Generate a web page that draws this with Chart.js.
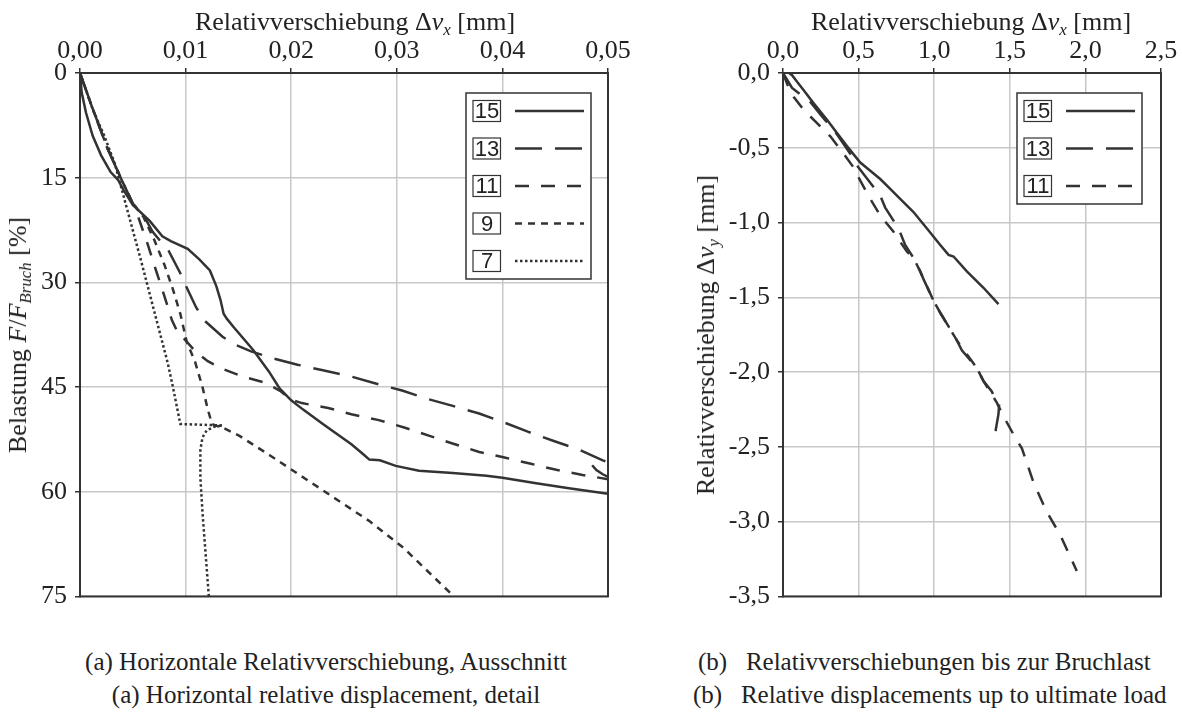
<!DOCTYPE html>
<html>
<head>
<meta charset="utf-8">
<script src="https://cdn.jsdelivr.net/npm/chart.js@4/dist/chart.umd.min.js"></script>
<style>
  body { margin: 0; background: #fff; width: 1182px; height: 722px; position: relative; overflow: hidden;
         font-family: "Liberation Serif", "Times New Roman", serif; color: #222; }
  canvas { position: absolute; top: 0; }
  #chartA { left: 0; }
  #chartB { left: 660px; }
  .t { position: absolute; font-size: 26px; line-height: 1; white-space: nowrap; }
  .t sub { font-size: 0.65em; position: relative; top: 0.28em; vertical-align: baseline; }
  .xt { top: 9px; transform: translateX(-50%); }
  .yt { top: 335px; transform: translate(-50%, -50%) rotate(-90deg); }
  .cap { position: absolute; font-size: 25px; line-height: 1; white-space: pre; }
  .mid { transform: translateX(-50%); }
</style>
</head>
<body>
<canvas id="chartA" width="640" height="620"></canvas>
<canvas id="chartB" width="522" height="620"></canvas>

<div class="t xt" style="left:355px">Relativverschiebung Δ<i>v</i><sub><i>x</i></sub> [mm]</div>
<div class="t yt" style="left:18px">Belastung <i>F</i>/<i>F</i><sub><i>Bruch</i></sub> [%]</div>
<div class="t xt" style="left:971px">Relativverschiebung Δ<i>v</i><sub><i>x</i></sub> [mm]</div>
<div class="t yt" style="left:706px">Relativverschiebung Δ<i>v</i><sub><i>y</i></sub> [mm]</div>

<div class="cap mid" style="left:326px; top:649px">(a) Horizontale Relativverschiebung, Ausschnitt</div>
<div class="cap mid" style="left:326px; top:682px">(a) Horizontal relative displacement, detail</div>
<div class="cap" style="left:698px; top:649px">(b)   Relativverschiebungen bis zur Bruchlast</div>
<div class="cap" style="left:693px; top:682px">(b)   Relative displacements up to ultimate load</div>

<script>
// (a) horizontal displacement dv_x [mm] vs load F/F_Bruch [%]
const a15x = [0, 0.00016, 0.00057, 0.0012, 0.0020, 0.0029, 0.0036, 0.0041, 0.0050, 0.0066, 0.0078, 0.0086, 0.0102, 0.0113, 0.0123, 0.0129, 0.0133, 0.0136, 0.0139, 0.0146, 0.0164, 0.0179, 0.0189, 0.0200, 0.0211, 0.0230, 0.0257, 0.0268, 0.0274, 0.0284, 0.0299, 0.0321, 0.0353, 0.0385, 0.0400, 0.0432, 0.0463, 0.0500];
const a15y = [0, 2.8, 5.7, 9.0, 11.8, 14.2, 15.3, 16.7, 18.9, 21.2, 23.4, 24.1, 25.2, 26.7, 28.3, 30.5, 32.5, 34.5, 35.2, 36.5, 39.7, 42.8, 45.2, 46.9, 48.2, 50.3, 53.2, 54.6, 55.4, 55.5, 56.3, 57.0, 57.3, 57.7, 58.0, 58.8, 59.5, 60.3];

// the short hook at the right edge is a separate trace piece (null = break)
const a13x = [0, 0.0011, 0.0026, 0.0040, 0.0050, 0.0060, 0.0069, 0.0084, 0.0095, 0.0100, 0.0110, 0.0118, 0.0135, 0.0148, 0.0162, 0.0183, 0.0206, 0.0230, 0.0257, 0.0280, 0.0305, 0.0329, 0.0353, 0.0378, 0.0402, 0.0424, 0.0448, 0.0473, 0.0495, 0.0503, null, 0.0485, 0.0489, 0.0495, 0.0502];
const a13y = [0, 4.7, 10.8, 15.5, 18.7, 20.4, 22.8, 25.5, 28.7, 30.4, 33.6, 35.5, 37.8, 39.0, 39.9, 40.9, 41.8, 42.6, 43.5, 44.5, 45.5, 46.7, 47.7, 48.8, 50.1, 51.4, 52.7, 54.0, 55.5, 55.9, null, 56.2, 56.9, 57.5, 58.0];

const a11x = [0, 0.0011, 0.0026, 0.0040, 0.0050, 0.0056, 0.0064, 0.0072, 0.0080, 0.0087, 0.0092, 0.0101, 0.0110, 0.0121, 0.0135, 0.0154, 0.0176, 0.0190, 0.0200, 0.0210, 0.0235, 0.0257, 0.0282, 0.0307, 0.0331, 0.0355, 0.0378, 0.0402, 0.0427, 0.0452, 0.0476, 0.0500];
const a11y = [0, 4.7, 10.8, 15.5, 18.7, 21.0, 24.5, 28.3, 32.0, 35.4, 37.0, 38.5, 40.0, 41.3, 42.4, 43.5, 44.4, 45.6, 46.8, 47.3, 48.0, 48.9, 49.7, 50.8, 52.0, 53.2, 54.3, 55.1, 56.0, 56.9, 57.6, 58.2];

const a9x = [0, 0.0011, 0.0026, 0.0040, 0.0050, 0.0060, 0.0070, 0.0080, 0.0088, 0.0095, 0.0101, 0.0109, 0.0116, 0.0121, 0.0125, 0.0130, 0.0135, 0.0151, 0.0180, 0.0227, 0.0274, 0.0306, 0.0352];
const a9y = [0, 4.7, 10.8, 15.5, 18.7, 20.6, 23.8, 27.5, 31.0, 34.5, 38.5, 41.4, 45.0, 48.2, 50.3, 50.6, 50.8, 52.0, 54.8, 59.5, 64.2, 68.0, 74.7];

const a7x = [0, 0.0012, 0.0023, 0.0033, 0.0041, 0.0058, 0.0074, 0.0083, 0.0088, 0.0095, 0.0115, 0.0135, 0.0127, 0.0120, 0.0116, 0.0114, 0.0114, 0.0116, 0.0119, 0.0122];
const a7y = [0, 5.2, 9.0, 13.0, 17.5, 27.0, 36.3, 41.5, 45.0, 50.3, 50.4, 50.5, 50.7, 51.2, 52.2, 54.0, 58.0, 63.0, 69.0, 75.0];

// (b) dv_x [mm] vs dv_y [mm] up to ultimate load
const b15x = [0, 0.02, 0.04, 0.06, 0.093, 0.137, 0.203, 0.291, 0.357, 0.423, 0.511, 0.577, 0.643, 0.709, 0.775, 0.863, 0.952, 1.040, 1.095, 1.128, 1.216, 1.326, 1.425];
const b15y = [0, 0.01, 0.0, -0.015, -0.059, -0.115, -0.203, -0.313, -0.401, -0.489, -0.599, -0.654, -0.709, -0.775, -0.841, -0.930, -1.040, -1.150, -1.216, -1.227, -1.326, -1.436, -1.546];

const b13x = [0, 0.03, 0.06, 0.11, 0.17, 0.25, 0.35, 0.445, 0.49, 0.544, 0.643, 0.676, 0.764, 0.808, 0.863, 0.907, 0.93, 0.995, 1.044, 1.139, 1.183, 1.282, 1.326, 1.381, 1.414, 1.43, 1.425, 1.408, 1.40];
const b13y = [0, -0.05, -0.10, -0.14, -0.18, -0.28, -0.40, -0.54, -0.62, -0.69, -0.82, -0.90, -1.04, -1.15, -1.236, -1.326, -1.38, -1.522, -1.61, -1.767, -1.854, -1.973, -2.06, -2.13, -2.204, -2.209, -2.281, -2.38, -2.457];

const b11x = [0, 0.03, 0.07, 0.137, 0.225, 0.313, 0.412, 0.467, 0.511, 0.577, 0.643, 0.731, 0.819, 0.863, 0.907, 0.995, 1.044, 1.150, 1.282, 1.326, 1.414, 1.454, 1.535, 1.58, 1.612, 1.656, 1.744, 1.833, 1.943];
const b11y = [0, -0.08, -0.159, -0.247, -0.335, -0.423, -0.555, -0.632, -0.72, -0.841, -0.952, -1.062, -1.194, -1.236, -1.326, -1.522, -1.61, -1.788, -1.973, -2.06, -2.204, -2.288, -2.436, -2.51, -2.604, -2.736, -2.934, -3.088, -3.33];

const ink = '#333';
const gridGrey = '#c8c8c8';

// dash styles per test (legend keys)
const styles = {
  '15': [],
  '13': [27, 13],
  '11': [14, 12],
  '9': [7, 6],
  '7': [2.5, 2.5]
};

function pts(xs, ys) {
  return xs.map((x, i) => ({ x: x, y: ys[i] }));
}

function series(label, xs, ys) {
  return {
    label: label,
    data: pts(xs, ys),
    borderColor: ink,
    borderWidth: 2.5,
    borderDash: styles[label],
    pointRadius: 0,
    tension: 0,
    spanGaps: false,
    fill: false
  };
}

// closed frame around the plot area
const frame = {
  id: 'frame',
  beforeDatasetsDraw(chart) {
    const { ctx, chartArea: a } = chart;
    ctx.save();
    ctx.strokeStyle = ink;
    ctx.lineWidth = 2;
    ctx.strokeRect(a.left, a.top, a.width, a.height);
    ctx.restore();
  }
};

// boxed legend: numbered tag + line sample
const boxLegend = {
  id: 'boxLegend',
  afterDatasetsDraw(chart, args, opts) {
    const { ctx, chartArea: a } = chart;
    const sets = chart.data.datasets;
    const w = 125, rowH = 37.5, pad = 18;
    const h = pad * 2 + rowH * (sets.length - 1);
    const x0 = a.right - opts.right - w;
    const y0 = a.top + opts.top;
    ctx.save();
    ctx.fillStyle = '#fff';
    ctx.fillRect(x0, y0, w, h);
    ctx.strokeStyle = ink;
    ctx.lineWidth = 1.5;
    ctx.strokeRect(x0, y0, w, h);
    sets.forEach((ds, i) => {
      const cy = y0 + pad + i * rowH;
      ctx.setLineDash([]);
      ctx.lineWidth = 1.2;
      ctx.strokeStyle = ink;
      ctx.strokeRect(x0 + 7, cy - 10.5, 27.5, 21);
      ctx.fillStyle = '#222';
      ctx.font = '22px "Liberation Sans", Arial, sans-serif';
      ctx.textAlign = 'center';
      ctx.textBaseline = 'middle';
      ctx.fillText(ds.label, x0 + 21, cy + 1);
      ctx.lineWidth = ds.borderWidth;
      ctx.setLineDash(ds.borderDash || []);
      ctx.beginPath();
      ctx.moveTo(x0 + 49, cy);
      ctx.lineTo(x0 + 118, cy);
      ctx.stroke();
    });
    ctx.restore();
  }
};

Chart.defaults.font.family = '"Liberation Serif", "Times New Roman", serif';
Chart.defaults.font.size = 26;
Chart.defaults.color = '#222';
Chart.defaults.animation = false;

function axis(extra) {
  return Object.assign({
    type: 'linear',
    grid: { color: gridGrey, lineWidth: 1.5, tickColor: ink, tickLength: 5, tickWidth: 1.5 },
    border: { color: ink, width: 2 }
  }, extra);
}

new Chart(document.getElementById('chartA'), {
  type: 'line',
  data: {
    datasets: [
      series('15', a15x, a15y),
      series('13', a13x, a13y),
      series('11', a11x, a11y),
      series('9', a9x, a9y),
      series('7', a7x, a7y)
    ]
  },
  options: {
    responsive: false,
    layout: { padding: { top: 0, right: 32, bottom: 18, left: 0 } },
    plugins: {
      legend: { display: false },
      tooltip: { enabled: false },
      boxLegend: { right: 17, top: 20 }
    },
    scales: {
      x: axis({
        position: 'top', min: 0, max: 0.05,
        ticks: { stepSize: 0.01, padding: 1, maxRotation: 0,
                 callback: v => v.toFixed(2).replace('.', ',') },
        afterFit: s => { s.height = 73; }
      }),
      y: axis({
        reverse: true, min: 0, max: 75,
        ticks: { stepSize: 15, padding: 8 },
        afterFit: s => { s.width = 80; }
      })
    }
  },
  plugins: [frame, boxLegend]
});

new Chart(document.getElementById('chartB'), {
  type: 'line',
  data: {
    datasets: [
      series('15', b15x, b15y),
      series('13', b13x, b13y),
      series('11', b11x, b11y)
    ]
  },
  options: {
    responsive: false,
    layout: { padding: { top: 0, right: 21, bottom: 18, left: 0 } },
    plugins: {
      legend: { display: false },
      tooltip: { enabled: false },
      boxLegend: { right: 19, top: 20 }
    },
    scales: {
      x: axis({
        position: 'top', min: 0, max: 2.5,
        ticks: { stepSize: 0.5, padding: 1, maxRotation: 0,
                 callback: v => v.toFixed(1).replace('.', ',') },
        afterFit: s => { s.height = 73; }
      }),
      y: axis({
        min: -3.5, max: 0,
        ticks: { stepSize: 0.5, padding: 8,
                 callback: v => (Math.abs(v) < 1e-9 ? 0 : v).toFixed(1).replace('.', ',') },
        afterFit: s => { s.width = 123; }
      })
    }
  },
  plugins: [frame, boxLegend]
});
</script>
</body>
</html>
